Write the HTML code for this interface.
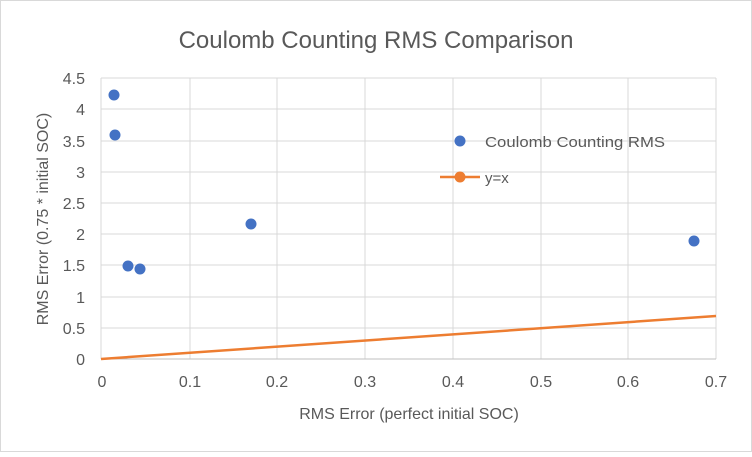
<!DOCTYPE html>
<html><head><meta charset="utf-8"><style>
body{margin:0;background:#fff}
svg text{font-family:"Liberation Sans",sans-serif;fill:#595959}
</style></head><body>
<svg width="752" height="452" xmlns="http://www.w3.org/2000/svg">
<rect x="0.5" y="0.5" width="751" height="451" fill="#fff" stroke="#d9d9d9"/>
<text x="376" y="48" font-size="24" text-anchor="middle">Coulomb Counting RMS Comparison</text>
<g stroke="#d9d9d9" stroke-width="1">
<line x1="190" y1="78" x2="190" y2="359"/><line x1="277" y1="78" x2="277" y2="359"/>
<line x1="365" y1="78" x2="365" y2="359"/><line x1="453" y1="78" x2="453" y2="359"/>
<line x1="541" y1="78" x2="541" y2="359"/><line x1="628" y1="78" x2="628" y2="359"/>
<line x1="716" y1="78" x2="716" y2="359"/>
<line x1="101" y1="78" x2="716" y2="78"/><line x1="101" y1="109" x2="716" y2="109"/>
<line x1="101" y1="141" x2="716" y2="141"/><line x1="101" y1="172" x2="716" y2="172"/>
<line x1="101" y1="203" x2="716" y2="203"/><line x1="101" y1="234" x2="716" y2="234"/>
<line x1="101" y1="265" x2="716" y2="265"/><line x1="101" y1="297" x2="716" y2="297"/>
<line x1="101" y1="328" x2="716" y2="328"/>
<line x1="101" y1="78" x2="101" y2="359"/>
</g>
<line x1="101" y1="359" x2="716" y2="359" stroke="#bfbfbf"/>
<g font-size="16" text-anchor="end">
<text x="85" y="84">4.5</text><text x="85" y="115">4</text><text x="85" y="147">3.5</text>
<text x="85" y="178">3</text><text x="85" y="209">2.5</text><text x="85" y="240">2</text>
<text x="85" y="271">1.5</text><text x="85" y="303">1</text><text x="85" y="334">0.5</text>
<text x="85" y="365">0</text>
</g>
<g font-size="16" text-anchor="middle">
<text x="102" y="387">0</text><text x="190" y="387">0.1</text><text x="277" y="387">0.2</text>
<text x="365" y="387">0.3</text><text x="453" y="387">0.4</text><text x="541" y="387">0.5</text>
<text x="628" y="387">0.6</text><text x="716" y="387">0.7</text>
<text x="409" y="419">RMS Error (perfect initial SOC)</text>
<text transform="translate(48,219) rotate(-90)">RMS Error (0.75 * initial SOC)</text>
</g>
<line x1="101" y1="359" x2="716" y2="316" stroke="#ed7d31" stroke-width="2.5"/>
<g fill="#4472c4">
<circle cx="114" cy="95" r="5.5"/><circle cx="115" cy="135" r="5.5"/>
<circle cx="128" cy="266" r="5.5"/><circle cx="140" cy="269" r="5.5"/>
<circle cx="251" cy="224" r="5.5"/><circle cx="694" cy="241" r="5.5"/>
<circle cx="460" cy="141" r="5.5"/>
</g>
<line x1="440" y1="177" x2="480" y2="177" stroke="#ed7d31" stroke-width="2.5"/>
<circle cx="460" cy="177" r="5.5" fill="#ed7d31"/>
<text x="485" y="147" font-size="15" textLength="180" lengthAdjust="spacingAndGlyphs">Coulomb Counting RMS</text>
<text x="485" y="183" font-size="15">y=x</text>
</svg>
</body></html>
